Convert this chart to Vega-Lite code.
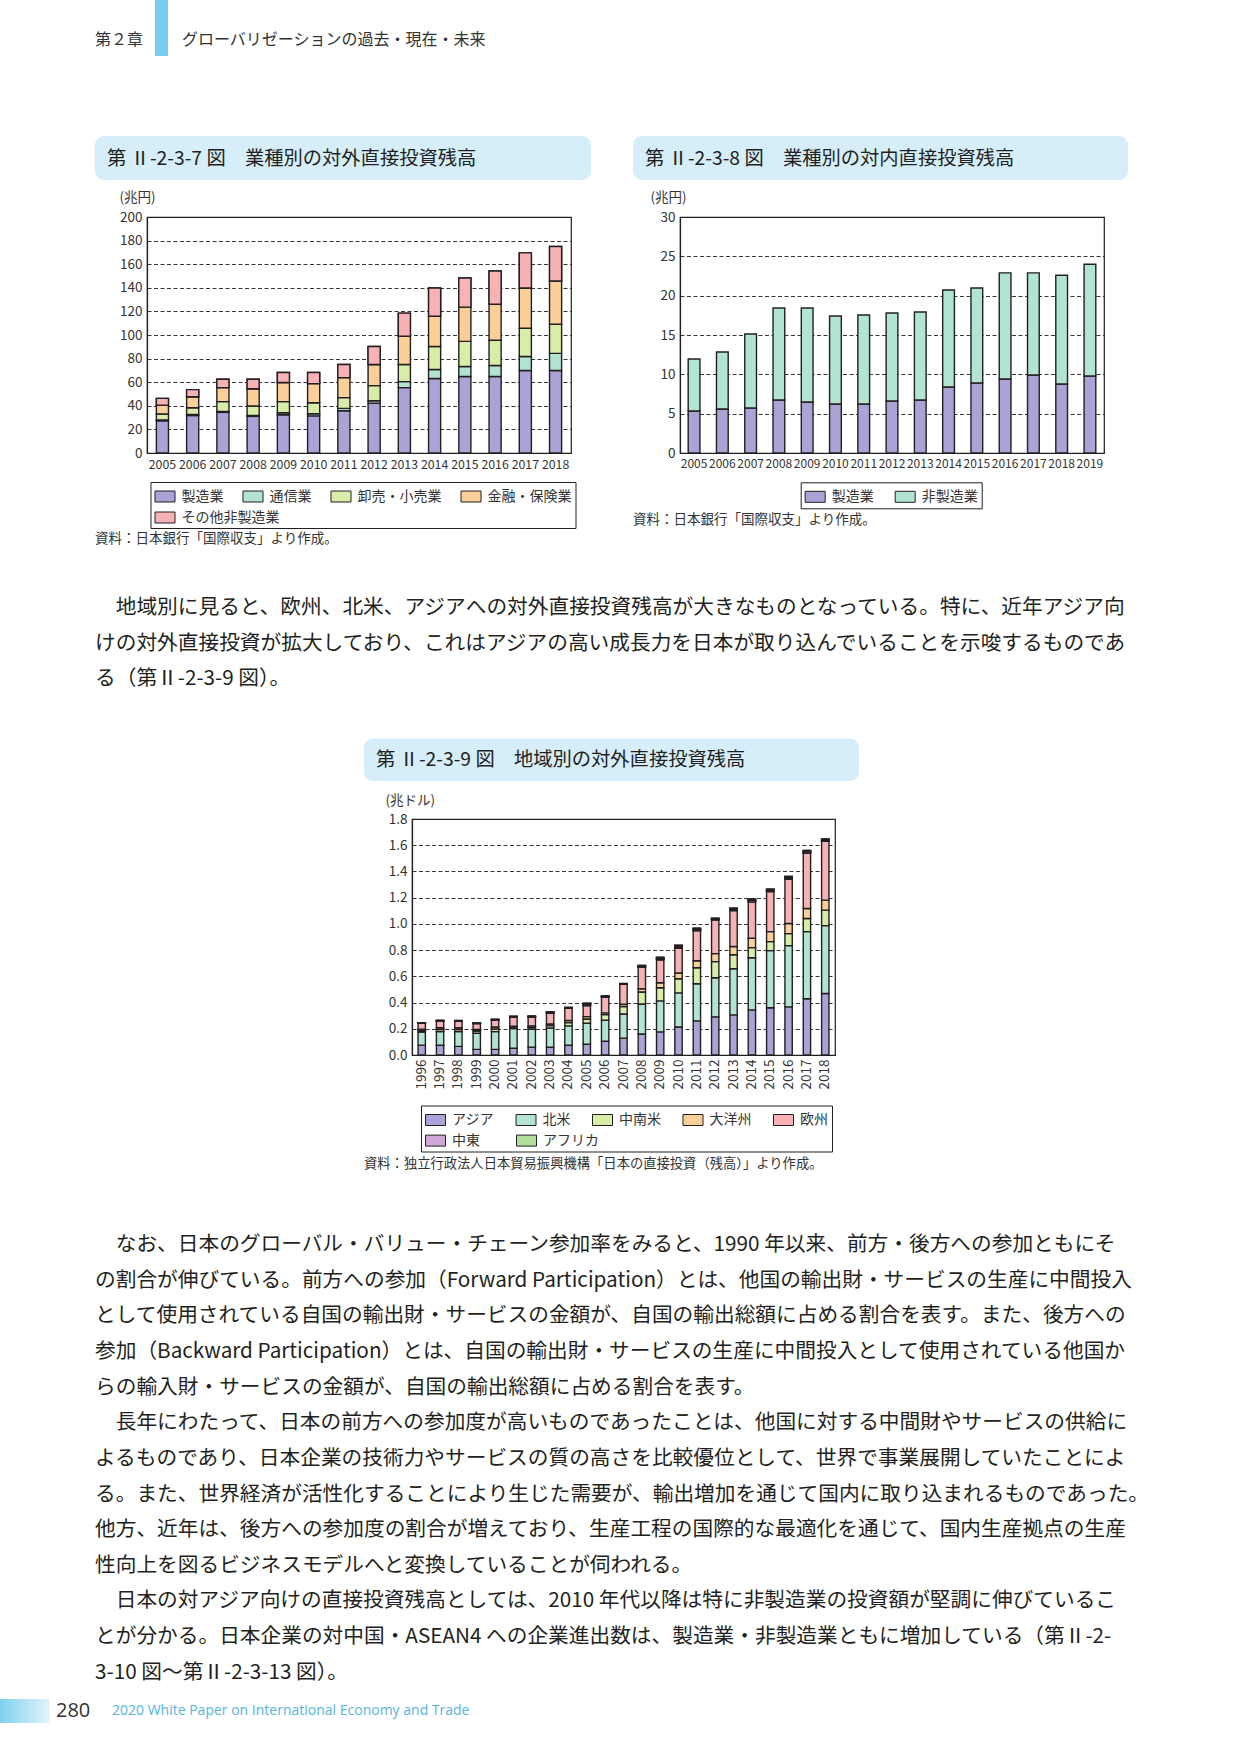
{
"$schema": "https://vega.github.io/schema/vega-lite/v6.json",
"padding": 0,
"background": "white",
"spacing": 0,
"bounds": "flush",
"resolve": {"scale": {"color": "independent", "fill": "independent", "x": "independent", "y": "independent"}, "legend": {"color": "independent", "fill": "independent"}},
"datasets": {
"c7": [{"cat":"製造業","o":1},{"cat":"通信業","o":2},{"cat":"卸売・小売業","o":3},{"cat":"金融・保険業","o":4},{"cat":"その他非製造業","o":5}],
"c8": [{"cat":"製造業","o":1},{"cat":"非製造業","o":2}],
"c9": [{"cat":"アジア","o":1},{"cat":"北米","o":2},{"cat":"中南米","o":3},{"cat":"大洋州","o":4},{"cat":"欧州","o":5},{"cat":"中東","o":6},{"cat":"アフリカ","o":7}]
},
"config": {
"font": "Noto Sans CJK JP",
"view": {"stroke": "#231f20", "strokeWidth": 1.2},
"axis": {"labelFont": "Noto Sans CJK JP", "labelColor": "#333333", "labelFontSize": 13.5, "domainColor": "#231f20", "domainWidth": 1.2, "ticks": false, "gridColor": "#231f20", "gridDash": [4, 2.5], "gridWidth": 0.9, "titleFont": "Noto Sans CJK JP", "titleFontWeight": "normal", "titleColor": "#333333", "titleFontSize": 13.5},
"legend": {"labelFont": "Noto Sans CJK JP", "labelFontSize": 14, "labelColor": "#333333", "symbolType": "M-1,-0.55H1V0.55H-1Z", "symbolSize": 400, "symbolStrokeColor": "#231f20", "symbolStrokeWidth": 1, "symbolOpacity": 1, "padding": 4, "columnPadding": 19, "rowPadding": 3.4, "labelOffset": 6, "labelLimit": 0},
"text": {"font": "Noto Sans CJK JP"}
},
"vconcat": [
{
"width": 1241, "height": 217, "view": {"stroke": null},
"layer": [
{"data": {"values": [{}]}, "mark": {"type": "rect", "color": "#78cdec"}, "encoding": {"x": {"value": 155}, "x2": {"value": 168}, "y": {"value": 0}, "y2": {"value": 56}}},
{"data": {"values": [{"t": "第２章"}]}, "mark": {"type": "text", "align": "left", "baseline": "middle", "fontSize": 16, "color": "#333333"}, "encoding": {"text": {"field": "t", "type": "nominal"}, "x": {"value": 95}, "y": {"value": 40}}},
{"data": {"values": [{"t": "グローバリゼーションの過去・現在・未来"}]}, "mark": {"type": "text", "align": "left", "baseline": "middle", "fontSize": 16, "color": "#333333"}, "encoding": {"text": {"field": "t", "type": "nominal"}, "x": {"value": 182}, "y": {"value": 40}}},
{"data": {"values": [{}]}, "mark": {"type": "rect", "color": "#d5eef9", "cornerRadius": 9}, "encoding": {"x": {"value": 95}, "x2": {"value": 591}, "y": {"value": 136}, "y2": {"value": 180}}},
{"data": {"values": [{}]}, "mark": {"type": "rect", "color": "#d5eef9", "cornerRadius": 9}, "encoding": {"x": {"value": 633}, "x2": {"value": 1128}, "y": {"value": 136}, "y2": {"value": 180}}},
{"data": {"values": [{"t": "第 Ⅱ-2-3-7 図　業種別の対外直接投資残高"}]}, "mark": {"type": "text", "align": "left", "baseline": "middle", "fontSize": 19.3, "color": "#231f20"}, "encoding": {"text": {"field": "t", "type": "nominal"}, "x": {"value": 107}, "y": {"value": 159}}},
{"data": {"values": [{"t": "第 Ⅱ-2-3-8 図　業種別の対内直接投資残高"}]}, "mark": {"type": "text", "align": "left", "baseline": "middle", "fontSize": 19.3, "color": "#231f20"}, "encoding": {"text": {"field": "t", "type": "nominal"}, "x": {"value": 645}, "y": {"value": 159}}}
]
},
{
"resolve": {"scale": {"color": "independent", "fill": "independent", "x": "independent", "y": "independent"}, "legend": {"color": "independent", "fill": "independent"}},
"hconcat": [
{"width": 38, "height": 236, "view": {"stroke": null}, "data": {"values": [{}]}, "mark": {"type": "text"}},
{
"width": 424, "height": 236,
"data": {"values": [
{"year":"2005","製造業":27.3,"通信業":0.8,"卸売・小売業":4.9,"金融・保険業":7.6,"その他非製造業":5.7},
{"year":"2006","製造業":31.8,"通信業":0.9,"卸売・小売業":5.7,"金融・保険業":9.3,"その他非製造業":6.0},
{"year":"2007","製造業":34.4,"通信業":0.8,"卸売・小売業":8.3,"金融・保険業":11.9,"その他非製造業":7.1},
{"year":"2008","製造業":31.0,"通信業":0.8,"卸売・小売業":8.0,"金融・保険業":14.7,"その他非製造業":8.0},
{"year":"2009","製造業":32.4,"通信業":1.7,"卸売・小売業":9.4,"金融・保険業":16.2,"その他非製造業":8.5},
{"year":"2010","製造業":31.5,"通信業":1.7,"卸売・小売業":9.4,"金融・保険業":16.2,"その他非製造業":9.4},
{"year":"2011","製造業":35.8,"通信業":2.0,"卸売・小売業":9.1,"金融・保険業":17.0,"その他非製造業":11.1},
{"year":"2012","製造業":42.3,"通信業":2.0,"卸売・小売業":12.8,"金融・保険業":17.9,"その他非製造業":15.3},
{"year":"2013","製造業":55.4,"通信業":5.1,"卸売・小売業":14.5,"金融・保険業":23.9,"その他非製造業":19.6},
{"year":"2014","製造業":63.1,"通信業":7.6,"卸売・小売業":19.6,"金融・保険業":25.6,"その他非製造業":23.9},
{"year":"2015","製造業":64.8,"通信業":8.5,"卸売・小売業":21.3,"金融・保険業":29.0,"その他非製造業":24.7},
{"year":"2016","製造業":64.8,"通信業":9.3,"卸売・小売業":21.4,"金融・保険業":30.6,"その他非製造業":28.2},
{"year":"2017","製造業":69.9,"通信業":11.9,"卸売・小売業":23.9,"金融・保険業":34.1,"その他非製造業":29.8},
{"year":"2018","製造業":69.9,"通信業":14.5,"卸売・小売業":24.7,"金融・保険業":36.6,"その他非製造業":29.3}
]},
"transform": [
{"fold": ["製造業","通信業","卸売・小売業","金融・保険業","その他非製造業"], "as": ["cat","value"]},
{"lookup": "cat", "from": {"data": {"name": "c7"}, "key": "cat", "fields": ["o"]}}
],
"encoding": {
"x": {"field": "year", "type": "ordinal", "scale": {"paddingInner": 0.6, "paddingOuter": 0.31}, "axis": {"title": null, "labelAngle": 0, "labelPadding": 5, "labelFontSize": 12.3}}
},
"layer": [
{
"mark": {"type": "bar", "stroke": "#231f20", "strokeWidth": 1.4},
"encoding": {
"y": {"field": "value", "type": "quantitative", "stack": "zero", "scale": {"domain": [0, 200], "nice": false}, "axis": {"values": [0,20,40,60,80,100,120,140,160,180,200], "title": "(兆円)", "titleAngle": 0, "titleAlign": "left", "titleBaseline": "middle", "titleX": -28, "titleY": -20, "labelPadding": 5}},
"color": {"field": "cat", "type": "nominal", "scale": {"domain": ["製造業","通信業","卸売・小売業","金融・保険業","その他非製造業"], "range": ["#aaa4d6","#b2e4d2","#d8eea8","#facf98","#f6b2b5"]}, "legend": {"values": ["製造業","通信業","卸売・小売業","金融・保険業"], "title": " ", "titleOrient": "bottom", "titleFontSize": 16, "titlePadding": 4, "strokeColor": "#231f20", "orient": "none", "legendX": 3.5, "legendY": 265, "direction": "horizontal", "columns": 4, "columnPadding": 17}},
"order": {"field": "o", "type": "quantitative"}
}
},
{
"transform": [
{"stack": "value", "groupby": ["year"], "sort": [{"field": "o", "order": "ascending"}], "as": ["v0", "v1"]},
{"filter": {"field": "cat", "equal": "その他非製造業"}}
],
"mark": {"type": "bar", "stroke": "#231f20", "strokeWidth": 1.4},
"encoding": {
"y": {"field": "v0", "type": "quantitative", "scale": {"domain": [0, 200], "nice": false}, "axis": {"values": [0,20,40,60,80,100,120,140,160,180,200], "title": "(兆円)", "titleAngle": 0, "titleAlign": "left", "titleBaseline": "middle", "titleX": -28, "titleY": -20, "labelPadding": 5}},
"y2": {"field": "v1"},
"fill": {"field": "cat", "type": "nominal", "scale": {"domain": ["その他非製造業"], "range": ["#f6b2b5"]}, "legend": {"title": null, "orient": "none", "legendX": 3.5, "legendY": 286, "direction": "horizontal", "columns": 1}}
}
}
]
},
{
"width": 424, "height": 236,
"data": {"values": [
{"year":"2005","製造業":5.34,"非製造業":6.61},
{"year":"2006","製造業":5.6,"非製造業":7.24},
{"year":"2007","製造業":5.72,"非製造業":9.41},
{"year":"2008","製造業":6.74,"非製造業":11.69},
{"year":"2009","製造業":6.48,"非製造業":11.95},
{"year":"2010","製造業":6.23,"非製造業":11.19},
{"year":"2011","製造業":6.23,"非製造業":11.31},
{"year":"2012","製造業":6.61,"非製造業":11.19},
{"year":"2013","製造業":6.74,"非製造業":11.18},
{"year":"2014","製造業":8.39,"非製造業":12.33},
{"year":"2015","製造業":8.9,"非製造業":12.07},
{"year":"2016","製造業":9.41,"非製造業":13.49},
{"year":"2017","製造業":9.92,"非製造業":12.98},
{"year":"2018","製造業":8.77,"非製造業":13.83},
{"year":"2019","製造業":9.79,"非製造業":14.21}
]},
"transform": [
{"fold": ["製造業","非製造業"], "as": ["cat","value"]},
{"lookup": "cat", "from": {"data": {"name": "c8"}, "key": "cat", "fields": ["o"]}}
],
"mark": {"type": "bar", "stroke": "#231f20", "strokeWidth": 1.4},
"encoding": {
"x": {"field": "year", "type": "ordinal", "scale": {"paddingInner": 0.585, "paddingOuter": 0.29}, "axis": {"title": null, "labelAngle": 0, "labelPadding": 5, "labelFontSize": 12}},
"y": {"field": "value", "type": "quantitative", "stack": "zero", "scale": {"domain": [0, 30], "nice": false}, "axis": {"values": [0,5,10,15,20,25,30], "title": "(兆円)", "titleAngle": 0, "titleAlign": "left", "titleBaseline": "middle", "titleX": -30, "titleY": -20, "labelPadding": 5}},
"color": {"field": "cat", "type": "nominal", "scale": {"domain": ["製造業","非製造業"], "range": ["#aaa4d6","#b2e4d2"]}, "legend": {"title": null, "strokeColor": "#231f20", "orient": "none", "legendX": 120.7, "legendY": 265.3, "direction": "horizontal", "columns": 2}},
"order": {"field": "o", "type": "quantitative"}
}
}
],
"spacing": 109,
"bounds": "flush"
},
{
"width": 1241, "height": 602, "view": {"stroke": null},
"layer": [
{"data": {"values": [{"t": "資料：日本銀行「国際収支」より作成。"}]}, "mark": {"type": "text", "align": "left", "baseline": "middle", "fontSize": 13.5, "color": "#333333"}, "encoding": {"text": {"field": "t", "type": "nominal"}, "x": {"value": 95}, "y": {"value": 322.4}}},
{"data": {"values": [{"t": "資料：日本銀行「国際収支」より作成。"}]}, "mark": {"type": "text", "align": "left", "baseline": "middle", "fontSize": 13.5, "color": "#333333"}, "encoding": {"text": {"field": "t", "type": "nominal"}, "x": {"value": 633}, "y": {"value": 303.4}}},
{"data": {"values": [{"t": "地域別に見ると、欧州、北米、アジアへの対外直接投資残高が大きなものとなっている。特に、近年アジア向"}]}, "mark": {"type": "text", "align": "left", "baseline": "alphabetic", "fontSize": 20.7, "color": "#231f20"}, "encoding": {"text": {"field": "t", "type": "nominal"}, "x": {"value": 115.7}, "y": {"value": 397.3}}},
{"data": {"values": [{"t": "けの対外直接投資が拡大しており、これはアジアの高い成長力を日本が取り込んでいることを示唆するものであ\nる（第Ⅱ-2-3-9 図）。"}]}, "mark": {"type": "text", "align": "left", "baseline": "alphabetic", "fontSize": 20.7, "lineBreak": "\n", "lineHeight": 35.5, "color": "#231f20"}, "encoding": {"text": {"field": "t", "type": "nominal"}, "x": {"value": 95}, "y": {"value": 432.8}}},
{"data": {"values": [{}]}, "mark": {"type": "rect", "color": "#d5eef9", "cornerRadius": 9}, "encoding": {"x": {"value": 364}, "x2": {"value": 859}, "y": {"value": 521.6}, "y2": {"value": 564}}},
{"data": {"values": [{"t": "第 Ⅱ-2-3-9 図　地域別の対外直接投資残高"}]}, "mark": {"type": "text", "align": "left", "baseline": "middle", "fontSize": 19.3, "color": "#231f20"}, "encoding": {"text": {"field": "t", "type": "nominal"}, "x": {"value": 376}, "y": {"value": 543}}}
]
},
{
"resolve": {"scale": {"color": "independent", "fill": "independent", "x": "independent", "y": "independent"}, "legend": {"color": "independent", "fill": "independent"}},
"hconcat": [
{"width": 312, "height": 236, "view": {"stroke": null}, "data": {"values": [{}]}, "mark": {"type": "text"}},
{
"width": 423, "height": 236,
"data": {"values": [
{"year":"1996","アジア":0.075,"北米":0.100,"中南米":0.012,"大洋州":0.010,"欧州":0.045,"中東":0.002,"アフリカ":0.002},
{"year":"1997","アジア":0.074,"北米":0.104,"中南米":0.016,"大洋州":0.014,"欧州":0.052,"中東":0.002,"アフリカ":0.002},
{"year":"1998","アジア":0.066,"北米":0.112,"中南米":0.016,"大洋州":0.014,"欧州":0.051,"中東":0.002,"アフリカ":0.002},
{"year":"1999","アジア":0.043,"北米":0.123,"中南米":0.017,"大洋州":0.012,"欧州":0.045,"中東":0.002,"アフリカ":0.002},
{"year":"2000","アジア":0.043,"北米":0.135,"中南米":0.020,"大洋州":0.016,"欧州":0.054,"中東":0.002,"アフリカ":0.002},
{"year":"2001","アジア":0.051,"北米":0.150,"中南米":0.012,"大洋州":0.006,"欧州":0.070,"中東":0.004,"アフリカ":0.002},
{"year":"2002","アジア":0.059,"北米":0.137,"中南米":0.013,"大洋州":0.012,"欧州":0.070,"中東":0.002,"アフリカ":0.004},
{"year":"2003","アジア":0.059,"北米":0.147,"中南米":0.018,"大洋州":0.013,"欧州":0.082,"中東":0.006,"アフリカ":0.004},
{"year":"2004","アジア":0.074,"北米":0.148,"中南米":0.025,"大洋州":0.016,"欧州":0.096,"中東":0.002,"アフリカ":0.002},
{"year":"2005","アジア":0.082,"北米":0.160,"中南米":0.033,"大洋州":0.018,"欧州":0.084,"中東":0.010,"アフリカ":0.008},
{"year":"2006","アジア":0.105,"北米":0.160,"中南米":0.043,"大洋州":0.013,"欧州":0.120,"中東":0.006,"アフリカ":0.004},
{"year":"2007","アジア":0.129,"北米":0.184,"中南米":0.057,"大洋州":0.017,"欧州":0.154,"中東":0.002,"アフリカ":0.002},
{"year":"2008","アジア":0.160,"北米":0.229,"中南米":0.092,"大洋州":0.024,"欧州":0.166,"中東":0.006,"アフリカ":0.006},
{"year":"2009","アジア":0.176,"北米":0.237,"中南米":0.100,"大洋州":0.038,"欧州":0.176,"中東":0.010,"アフリカ":0.008},
{"year":"2010","アジア":0.214,"北米":0.260,"中南米":0.108,"大洋州":0.043,"欧州":0.191,"中東":0.012,"アフリカ":0.009},
{"year":"2011","アジア":0.260,"北米":0.283,"中南米":0.123,"大洋州":0.053,"欧州":0.230,"中東":0.010,"アフリカ":0.008},
{"year":"2012","アジア":0.291,"北米":0.298,"中南米":0.123,"大洋州":0.061,"欧州":0.258,"中東":0.007,"アフリカ":0.005},
{"year":"2013","アジア":0.306,"北米":0.352,"中南米":0.107,"大洋州":0.062,"欧州":0.275,"中東":0.010,"アフリカ":0.008},
{"year":"2014","アジア":0.344,"北米":0.398,"中南米":0.077,"大洋州":0.071,"欧州":0.278,"中東":0.012,"アフリカ":0.009},
{"year":"2015","アジア":0.360,"北米":0.436,"中南米":0.069,"大洋州":0.076,"欧州":0.306,"中東":0.010,"アフリカ":0.008},
{"year":"2016","アジア":0.367,"北米":0.467,"中南米":0.092,"大洋州":0.077,"欧州":0.339,"中東":0.008,"アフリカ":0.012},
{"year":"2017","アジア":0.429,"北米":0.512,"中南米":0.100,"大洋州":0.076,"欧州":0.421,"中東":0.012,"アフリカ":0.010},
{"year":"2018","アジア":0.469,"北米":0.518,"中南米":0.118,"大洋州":0.076,"欧州":0.449,"中東":0.010,"アフリカ":0.008}
]},
"transform": [
{"fold": ["アジア","北米","中南米","大洋州","欧州","中東","アフリカ"], "as": ["cat","value"]},
{"lookup": "cat", "from": {"data": {"name": "c9"}, "key": "cat", "fields": ["o"]}}
],
"encoding": {
"x": {"field": "year", "type": "ordinal", "scale": {"paddingInner": 0.6, "paddingOuter": 0.33}, "axis": {"title": null, "labelAngle": -90, "labelPadding": 4, "labelFontSize": 13.5}}
},
"layer": [
{
"mark": {"type": "bar", "stroke": "#231f20", "strokeWidth": 1.4},
"encoding": {
"y": {"field": "value", "type": "quantitative", "stack": "zero", "scale": {"domain": [0, 1.8], "nice": false}, "axis": {"values": [0,0.2,0.4,0.6,0.8,1.0,1.2,1.4,1.6,1.8], "format": ".1f", "title": "(兆ドル)", "titleAngle": 0, "titleAlign": "left", "titleBaseline": "middle", "titleX": -27, "titleY": -19, "labelPadding": 5}},
"color": {"field": "cat", "type": "nominal", "scale": {"domain": ["アジア","北米","中南米","大洋州","欧州","中東","アフリカ"], "range": ["#aaa4d6","#b2e4d2","#d8eea8","#facf98","#f6b2b5","#d0a9da","#b3df9c"]}, "legend": {"values": ["アジア","北米","中南米","大洋州","欧州"], "title": " ", "titleOrient": "bottom", "titleFontSize": 16, "titlePadding": 4, "strokeColor": "#231f20", "orient": "none", "legendX": 9, "legendY": 286.5, "direction": "horizontal", "columns": 5, "columnPadding": 19.5}},
"order": {"field": "o", "type": "quantitative"}
}
},
{
"transform": [
{"stack": "value", "groupby": ["year"], "sort": [{"field": "o", "order": "ascending"}], "as": ["v0", "v1"]},
{"filter": {"field": "cat", "oneOf": ["中東", "アフリカ"]}}
],
"mark": {"type": "bar", "stroke": "#231f20", "strokeWidth": 1.4},
"encoding": {
"y": {"field": "v0", "type": "quantitative", "scale": {"domain": [0, 1.8], "nice": false}, "axis": {"values": [0,0.2,0.4,0.6,0.8,1.0,1.2,1.4,1.6,1.8], "format": ".1f", "title": "(兆ドル)", "titleAngle": 0, "titleAlign": "left", "titleBaseline": "middle", "titleX": -27, "titleY": -19, "labelPadding": 5}},
"y2": {"field": "v1"},
"fill": {"field": "cat", "type": "nominal", "scale": {"domain": ["中東","アフリカ"], "range": ["#d0a9da","#b3df9c"]}, "legend": {"title": null, "orient": "none", "legendX": 9, "legendY": 307.1, "direction": "horizontal", "columns": 2, "columnPadding": 34}}
}
}
]
}
],
"spacing": 100,
"bounds": "flush"
},
{
"width": 1241, "height": 935, "view": {"stroke": null},
"layer": [
{"data": {"values": [{"t": "資料：独立行政法人日本貿易振興機構「日本の直接投資（残高）」より作成。"}]}, "mark": {"type": "text", "align": "left", "baseline": "middle", "fontSize": 13.3, "color": "#333333"}, "encoding": {"text": {"field": "t", "type": "nominal"}, "x": {"value": 364}, "y": {"value": 344.8}}},
{"data": {"values": [{"t": "なお、日本のグローバル・バリュー・チェーン参加率をみると、1990 年以来、前方・後方への参加ともにそ"}]}, "mark": {"type": "text", "align": "left", "baseline": "alphabetic", "fontSize": 20.7, "color": "#231f20"}, "encoding": {"text": {"field": "t", "type": "nominal"}, "x": {"value": 115.7}, "y": {"value": 432.1}}},
{"data": {"values": [{"t": "の割合が伸びている。前方への参加（Forward Participation）とは、他国の輸出財・サービスの生産に中間投入\nとして使用されている自国の輸出財・サービスの金額が、自国の輸出総額に占める割合を表す。また、後方への\n参加（Backward Participation）とは、自国の輸出財・サービスの生産に中間投入として使用されている他国か\nらの輸入財・サービスの金額が、自国の輸出総額に占める割合を表す。"}]}, "mark": {"type": "text", "align": "left", "baseline": "alphabetic", "fontSize": 20.7, "lineBreak": "\n", "lineHeight": 35.63, "color": "#231f20"}, "encoding": {"text": {"field": "t", "type": "nominal"}, "x": {"value": 95}, "y": {"value": 467.73}}},
{"data": {"values": [{"t": "長年にわたって、日本の前方への参加度が高いものであったことは、他国に対する中間財やサービスの供給に"}]}, "mark": {"type": "text", "align": "left", "baseline": "alphabetic", "fontSize": 20.7, "color": "#231f20"}, "encoding": {"text": {"field": "t", "type": "nominal"}, "x": {"value": 115.7}, "y": {"value": 610.25}}},
{"data": {"values": [{"t": "よるものであり、日本企業の技術力やサービスの質の高さを比較優位として、世界で事業展開していたことによ\nる。また、世界経済が活性化することにより生じた需要が、輸出増加を通じて国内に取り込まれるものであった。\n他方、近年は、後方への参加度の割合が増えており、生産工程の国際的な最適化を通じて、国内生産拠点の生産\n性向上を図るビジネスモデルへと変換していることが伺われる。"}]}, "mark": {"type": "text", "align": "left", "baseline": "alphabetic", "fontSize": 20.7, "lineBreak": "\n", "lineHeight": 35.63, "color": "#231f20"}, "encoding": {"text": {"field": "t", "type": "nominal"}, "x": {"value": 95}, "y": {"value": 645.88}}},
{"data": {"values": [{"t": "日本の対アジア向けの直接投資残高としては、2010 年代以降は特に非製造業の投資額が堅調に伸びているこ"}]}, "mark": {"type": "text", "align": "left", "baseline": "alphabetic", "fontSize": 20.7, "color": "#231f20"}, "encoding": {"text": {"field": "t", "type": "nominal"}, "x": {"value": 115.7}, "y": {"value": 788.4}}},
{"data": {"values": [{"t": "とが分かる。日本企業の対中国・ASEAN4 への企業進出数は、製造業・非製造業ともに増加している（第Ⅱ-2-\n3-10 図～第Ⅱ-2-3-13 図）。"}]}, "mark": {"type": "text", "align": "left", "baseline": "alphabetic", "fontSize": 20.7, "lineBreak": "\n", "lineHeight": 35.63, "color": "#231f20"}, "encoding": {"text": {"field": "t", "type": "nominal"}, "x": {"value": 95}, "y": {"value": 824.03}}},
{"data": {"values": [{}]}, "mark": {"type": "rect", "color": {"gradient": "linear", "x1": 0, "x2": 1, "y1": 0, "y2": 0, "stops": [{"offset": 0, "color": "#7fd0ef"}, {"offset": 1, "color": "#e4f4fb"}]}}, "encoding": {"x": {"value": 0}, "x2": {"value": 50}, "y": {"value": 880}, "y2": {"value": 904}}},
{"data": {"values": [{"t": "280"}]}, "mark": {"type": "text", "align": "left", "baseline": "middle", "fontSize": 20, "font": "Open Sans", "color": "#333333"}, "encoding": {"text": {"field": "t", "type": "nominal"}, "x": {"value": 56}, "y": {"value": 892}}},
{"data": {"values": [{"t": "2020 White Paper on International Economy and Trade"}]}, "mark": {"type": "text", "align": "left", "baseline": "middle", "fontSize": 14, "font": "Open Sans", "color": "#55b4e0"}, "encoding": {"text": {"field": "t", "type": "nominal"}, "x": {"value": 112}, "y": {"value": 892}}}
]
}
]
}
